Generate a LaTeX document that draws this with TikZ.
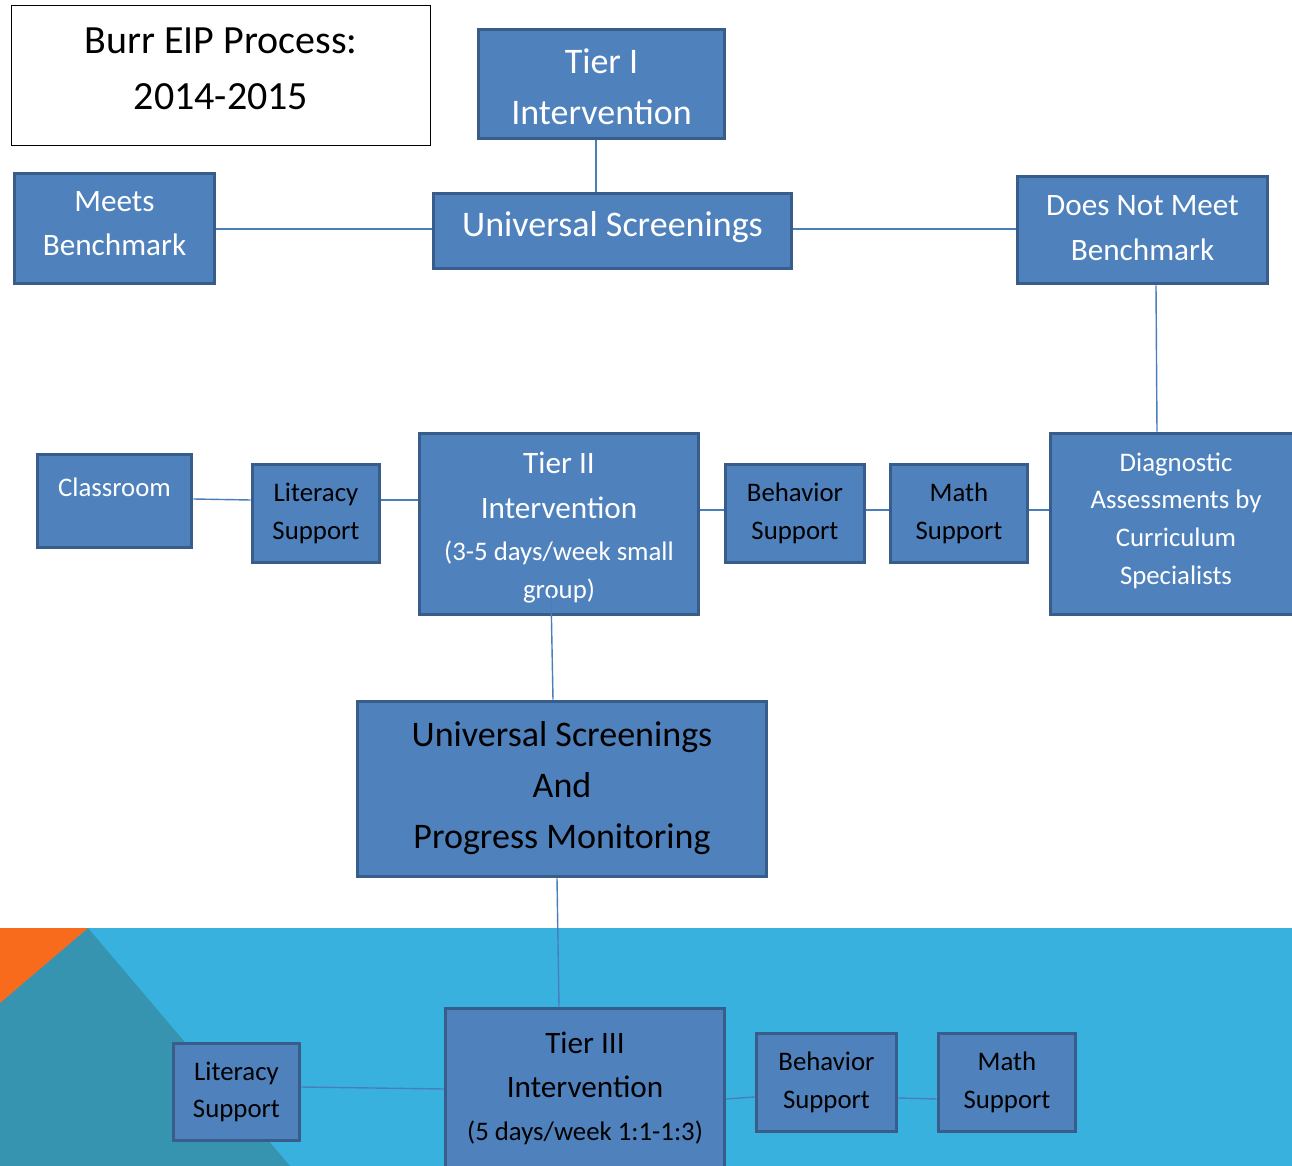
\documentclass[tikz,border=0pt]{standalone}
\usepackage{fontspec}
\setmainfont{Carlito}
\usetikzlibrary{calc}
\definecolor{boxfill}{HTML}{4F81BD}
\definecolor{boxline}{HTML}{385D8A}
\definecolor{conn}{HTML}{4A7EBB}
\definecolor{band}{HTML}{38B1DF}
\definecolor{bandteal}{HTML}{3794B1}
\definecolor{bandorange}{HTML}{F96B1C}
\newcommand\fTitle{\fontsize{20}{28}\selectfont}
\newcommand\fBig{\fontsize{18}{25.5}\selectfont}
\newcommand\fMed{\fontsize{15.6}{22.2}\selectfont}
\newcommand\fSm{\fontsize{13.4}{18.8}\selectfont}
\pgfdeclarelayer{back}
\pgfdeclarelayer{mid}
\pgfsetlayers{back,mid,main}
\begin{document}
\begin{tikzpicture}[x=0.5pt,y=-0.5pt,
 bx/.style={draw=boxline,line width=1.8pt,fill=boxfill,inner sep=0pt,align=center},
 wt/.style={text=white}, bk/.style={text=black},
 cn/.style={draw=conn,line width=0.7pt}]
\useasboundingbox (0,0) rectangle (1292,1166);
\clip (0,0) rectangle (1292,1166);
\begin{pgfonlayer}{back}
\fill[white] (0,0) rectangle (1292,1166);
\fill[band] (0,928) rectangle (1292,1166);
\fill[bandteal] (0,928) -- (88,928) -- (290,1166) -- (0,1166) -- cycle;
\fill[bandorange] (0,928) -- (88,928) -- (0,1003) -- cycle;
\end{pgfonlayer}

\node[draw=black,line width=0.75pt,fill=white,align=center,inner sep=0pt,font=\fTitle,minimum width=209.5pt,minimum height=70pt,text height=34.5pt,text depth=0pt] (title) at (221,75.5) {Burr EIP Process:\\2014-2015};
\node[bx,wt,font=\fBig,minimum width=123pt,minimum height=54.5pt,text height=40.7pt,text depth=0pt] (tier1) at (601.5,84) {Tier I\\Intervention};
\node[bx,wt,font=\fBig,minimum width=179pt,minimum height=37.5pt,text height=5.7pt,text depth=0pt] (us) at (612.5,231) {Universal Screenings};
\node[bx,wt,font=\fMed,minimum width=100pt,minimum height=55pt,text height=27.5pt,text depth=0pt] (meets) at (114.5,228.5) {Meets\\Benchmark};
\node[bx,wt,font=\fMed,minimum width=125pt,minimum height=53.5pt,text height=30.3pt,text depth=0pt] (dnm) at (1142.5,230) {Does Not Meet\\Benchmark};
\node[bx,wt,font=\fSm,minimum width=77pt,minimum height=46.5pt,text height=0pt,text depth=4.3pt] (class) at (114.5,501) {Classroom};
\node[bx,bk,font=\fSm,minimum width=63.5pt,minimum height=49pt] (lit1) at (316,513.5) {Literacy\\Support};
\node[bx,wt,font=\fSm,minimum width=139.5pt,minimum height=90.5pt,text height=74.3pt,text depth=0pt] (tier2) at (559,524) {\fMed Tier II\\[3.7pt]\fMed Intervention\\[2.4pt](3-5 days/week small\\group)};
\node[bx,bk,font=\fSm,minimum width=69.5pt,minimum height=49pt] (beh1) at (795,513.5) {Behavior\\Support};
\node[bx,bk,font=\fSm,minimum width=68.5pt,minimum height=49pt] (math1) at (959,513.5) {Math\\Support};
\node[bx,wt,font=\fSm,minimum width=125.5pt,minimum height=90.5pt,text height=60pt,text depth=0pt] (diag) at (1176,524) {Diagnostic\\Assessments by\\Curriculum\\Specialists};
\node[bx,bk,font=\fBig,minimum width=204.5pt,minimum height=87.5pt,text height=59.3pt,text depth=0pt] (uspm) at (562,789) {Universal Screenings\\And\\Progress Monitoring};
\node[bx,bk,font=\fSm,minimum width=139.5pt,minimum height=79.5pt] (tier3) at (585,1088) {\fMed Tier III\\[3.2pt]\fMed Intervention\\[2.7pt](5 days/week 1:1-1:3)};
\node[bx,bk,font=\fSm,minimum width=63pt,minimum height=48.5pt] (lit2) at (236.5,1092) {Literacy\\Support};
\node[bx,bk,font=\fSm,minimum width=70pt,minimum height=49pt] (beh2) at (826.5,1082.5) {Behavior\\Support};
\node[bx,bk,font=\fSm,minimum width=68.5pt,minimum height=49pt] (math2) at (1007,1082.5) {Math\\Support};

\begin{pgfonlayer}{mid}
\draw[cn] (tier1.south -| 596,0) -- (us.north -| 596,0);
\draw[cn] (meets.east |- 0,229) -- (us.west |- 0,229);
\draw[cn] (us.east |- 0,229) -- (dnm.west |- 0,229);
\draw[cn] (dnm.south -| 1156,0) -- (diag.north -| 1157,0);
\draw[cn] (class.east |- 0,499) -- (lit1.west |- 0,500);
\draw[cn] (lit1.east |- 0,500) -- (tier2.west |- 0,500);
\draw[cn] (tier2.east |- 0,510) -- (beh1.west |- 0,510);
\draw[cn] (beh1.east |- 0,510) -- (math1.west |- 0,510);
\draw[cn] (math1.east |- 0,510) -- (diag.west |- 0,510);
\draw[cn] (uspm.south -| 557,0) -- (tier3.north -| 559,0);
\draw[cn] (lit2.east |- 0,1087) -- (tier3.west |- 0,1089);
\draw[cn] (tier3.east |- 0,1099) -- (beh2.west |- 0,1097);
\draw[cn] (beh2.east |- 0,1098) -- (math2.west |- 0,1099);
\end{pgfonlayer}
\draw[cn] ($(tier2.south -| 551,0)+(0,-22)$) -- (uspm.north -| 553,0);
\end{tikzpicture}
\end{document}
